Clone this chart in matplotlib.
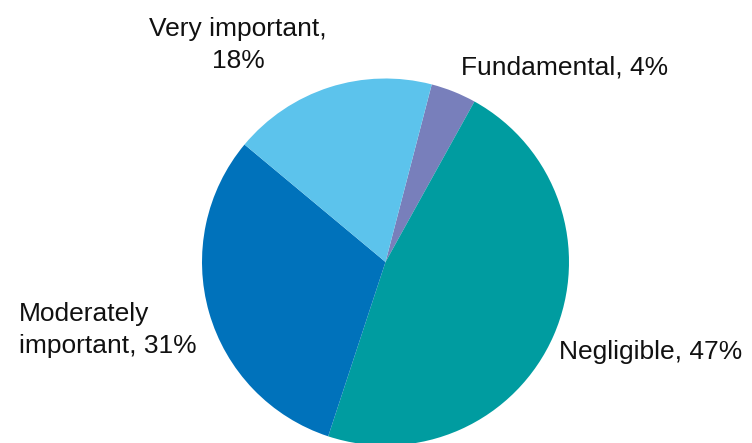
import matplotlib
matplotlib.use("Agg")
import matplotlib.pyplot as plt

# Share of responses by importance rating
categories = ["Fundamental", "Negligible", "Moderately important", "Very important"]
values = [4, 47, 31, 18]
colors = ["#787FBB", "#009CA0", "#0072BB", "#5CC3EC"]

plt.rcParams["font.family"] = ["Liberation Sans", "DejaVu Sans"]

fig = plt.figure(figsize=(7.52, 4.43), dpi=100)
R_PX = 183.5
cx, cy = 385.5, 262.0
W, H = 752, 443
ax = fig.add_axes([(cx - R_PX) / W, (H - cy - R_PX) / H, 2 * R_PX / W, 2 * R_PX / H])

ax.pie(values, colors=colors, startangle=75.4, counterclock=False,
       radius=1.0, wedgeprops=dict(linewidth=0))
ax.set_xlim(-1, 1)
ax.set_ylim(-1, 1)
ax.set_aspect("equal")
ax.axis("off")

def label(i, sep=", "):
    name = categories[i]
    return f"{name}{sep}{values[i]}%"

def to_data(px, py):
    return (px - cx) / R_PX, (cy - py) / R_PX

fs = 19
txt_kw = dict(fontsize=fs, color="#111111", clip_on=False, linespacing=1.4)

# Fundamental
x, y = to_data(461, 68)
ax.text(x, y, label(0), ha="left", va="center", **txt_kw)
# Negligible
x, y = to_data(559, 352)
ax.text(x, y, label(1), ha="left", va="center", **txt_kw)
# Moderately important
x, y = to_data(19, 330)
ax.text(x, y, label(2).replace("Moderately ", "Moderately\n"), ha="left",
        va="center", multialignment="left", **txt_kw)
# Very important
x, y = to_data(238, 45)
ax.text(x, y, label(3, sep=",\n"), ha="center", va="center",
        multialignment="center", **txt_kw)

fig.savefig("out.png", dpi=100)
